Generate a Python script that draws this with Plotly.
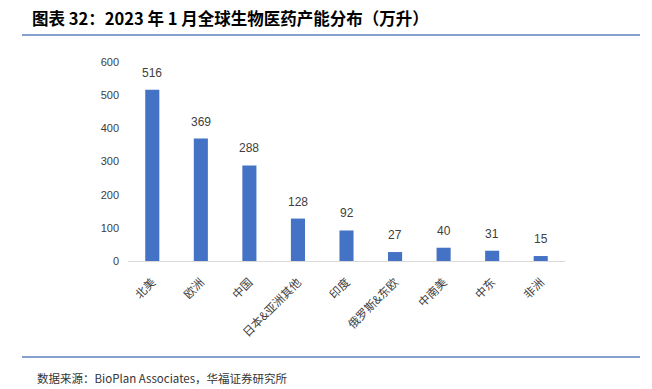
import plotly.graph_objects as go

categories = ["北美", "欧洲", "中国", "日本&亚洲其他", "印度", "俄罗斯&东欧", "中南美", "中东", "非洲"]
values = [516, 369, 288, 128, 92, 27, 40, 31, 15]
title_text = "图表 32：2023 年 1 月全球生物医药产能分布（万升）"
source_text = "数据来源：BioPlan Associates，华福证券研究所"

W, H = 652, 389
L, R, T, B = 128, 565, 62, 261

def px(x):
    return (x - L) / (R - L)

def py(y):
    return (B - y) / (B - T)

fig = go.Figure()
fig.add_trace(go.Bar(
    x=categories, y=values, width=0.29,
    marker=dict(color="#4472C4", line=dict(width=0)),
    cliponaxis=False,
))

for c, v in zip(categories, values):
    fig.add_annotation(x=c, y=v, xref="x", yref="y", text=str(v),
                       showarrow=False, yanchor="middle", yshift=17,
                       font=dict(family="Liberation Sans, Arial", size=12, color="#404040"))

fig.update_layout(
    width=W, height=H,
    margin=dict(l=L, r=W - R, t=T, b=H - B, pad=0),
    paper_bgcolor="white", plot_bgcolor="white",
    showlegend=False,
    bargap=0.71,
    xaxis=dict(
        showline=True, linecolor="#d9d9d9", linewidth=1,
        ticks="", tickangle=-45,
        tickfont=dict(family="Noto Sans CJK SC", size=11.5, color="#404040"),
        showgrid=False, ticklabelstandoff=9,
    ),
    yaxis=dict(
        range=[0, 600], dtick=100, showgrid=False, showline=False,
        zeroline=False, ticks="",
        tickfont=dict(family="Liberation Sans, Arial", size=11, color="#404040"),
        ticklabelstandoff=8,
    ),
)

fig.add_shape(type="line", xref="paper", yref="paper",
              x0=px(22), x1=px(640), y0=py(35), y1=py(35),
              line=dict(color="#5B7FC0", width=1.5))
fig.add_shape(type="line", xref="paper", yref="paper",
              x0=px(22), x1=px(640), y0=py(357), y1=py(357),
              line=dict(color="#5B7FC0", width=1.5))

fig.add_annotation(text="<b>" + title_text + "</b>", xref="paper", yref="paper",
                   x=px(30), y=py(18), xanchor="left", yanchor="middle",
                   showarrow=False,
                   font=dict(family="Noto Sans CJK SC", size=16.5, color="#000000"))
fig.add_annotation(text=source_text, xref="paper", yref="paper",
                   x=px(35), y=py(378), xanchor="left", yanchor="middle",
                   showarrow=False,
                   font=dict(family="Noto Sans CJK SC", size=11.5, color="#333333"))

fig.write_html("out.html", config={"displayModeBar": False},
               post_script="document.body.style.margin='0';document.body.style.padding='0';")
